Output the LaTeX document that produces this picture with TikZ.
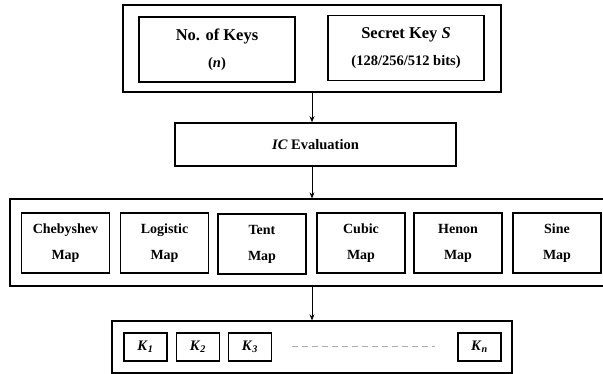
\documentclass[tikz,border=0pt]{standalone}
\usepackage{fontspec}
\setmainfont{Liberation Serif}
\usetikzlibrary{arrows.meta}

\begin{document}
\begin{tikzpicture}[
    x=1pt, y=-1pt,
    every node/.style={font=\bfseries, inner sep=0pt},
    outer/.style={draw, line width=1.3pt},
    box/.style={draw, line width=1.6pt, align=center},
    inbox/.style={box, minimum width=156, minimum height=65,
        font=\bfseries\fontsize{16.5}{27}\selectfont},
    mapbox/.style={box, minimum width=88, minimum height=60,
        font=\bfseries\fontsize{14}{26}\selectfont},
    keybox/.style={box, minimum width=43, minimum height=28,
        font=\bfseries\fontsize{14.5}{15}\selectfont},
    arr/.style={-{Stealth[length=6pt,width=5pt]}, line width=0.8pt}
]
\useasboundingbox (0,0) rectangle (603,374);

% inputs
\node[outer, minimum width=378, minimum height=87] (inputs) at (312,48.5) {};
\node[inbox] (nkeys) at (217,49.5)
    {No. of Keys\\{\fontsize{14.5}{27}\selectfont(\textit{n})}};
\node[inbox] (secret) at (406,48)
    {Secret Key \textit{S}\\{\fontsize{14.5}{27}\selectfont(128/256/512 bits)}};

% IC
\node[box, minimum width=281, minimum height=43,
    font=\bfseries\fontsize{14.5}{17}\selectfont] (ic) at (315.5,144.5)
    {\textit{IC} Evaluation};

% chaotic maps
\node[outer, minimum width=598, minimum height=87] (chaos) at (309,242.5) {};
\node[mapbox] (cheb)  at (65.5,243)  {Chebyshev\\Map};
\node[mapbox] (logi)  at (164.5,243) {Logistic\\Map};
\node[mapbox] (tent)  at (262,244)   {Tent\\Map};
\node[mapbox] (cubic) at (361,243)   {Cubic\\Map};
\node[mapbox] (henon) at (458,243)   {Henon\\Map};
\node[mapbox] (sine)  at (557,243)   {Sine\\Map};

% sub-keys
\node[outer, minimum width=400, minimum height=52] (subkeys) at (312,347) {};
\node[keybox] (k1) at (145.5,347) {\textit{K}\textsubscript{\textit{1}}};
\node[keybox] (k2) at (198,347)   {\textit{K}\textsubscript{\textit{2}}};
\node[keybox] (k3) at (250,347)   {\textit{K}\textsubscript{\textit{3}}};
\node[keybox] (kn) at (479.5,347) {\textit{K}\textsubscript{\textit{n}}};
\draw[gray!65, line width=1pt, dash pattern=on 6pt off 4pt]
    ([xshift=20]k3.east) -- ([xshift=-22]kn.west);

% arrows
\draw[arr] (inputs.south) -- (inputs.south |- ic.north);
\draw[arr] (inputs.south |- ic.south) -- (inputs.south |- chaos.north);
\draw[arr] (inputs.south |- chaos.south) -- (subkeys.north);
\end{tikzpicture}
\end{document}
